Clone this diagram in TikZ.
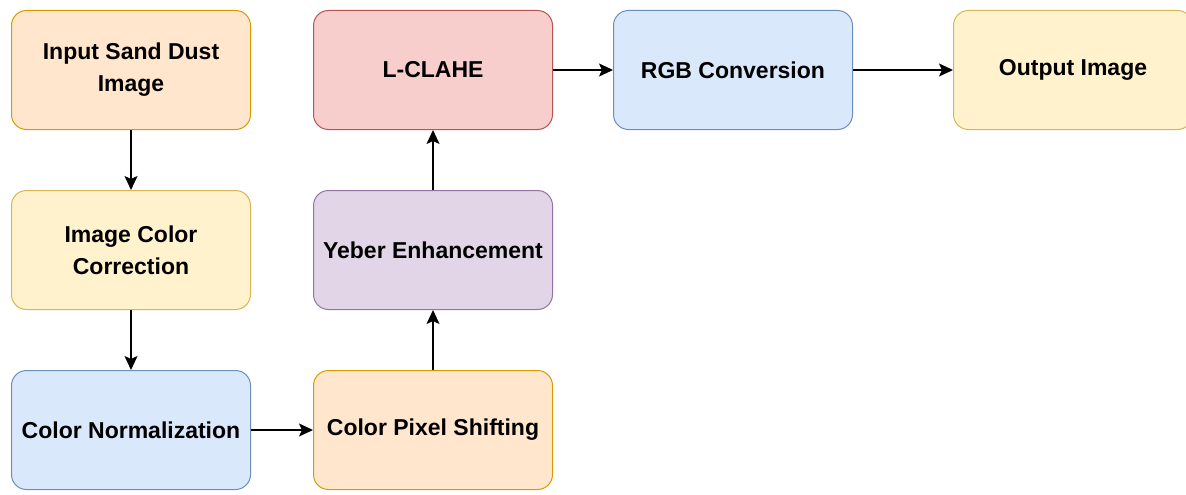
\documentclass[tikz,border=0pt]{standalone}
\usepackage{fontspec}
\setmainfont{Liberation Sans}
\usepackage{xcolor}
\usepackage{tikz}
\usetikzlibrary{arrows.meta}
\definecolor{fillnaranja}{HTML}{FFE6CC}
\definecolor{bordenaranja}{HTML}{D79B00}
\definecolor{fillamarillo}{HTML}{FFF2CC}
\definecolor{bordeamarillo}{HTML}{D6B656}
\definecolor{fillazul}{HTML}{DAE8FC}
\definecolor{bordeazul}{HTML}{6C8EBF}
\definecolor{fillrojo}{HTML}{F8CECC}
\definecolor{borderojo}{HTML}{B85450}
\definecolor{fillmorado}{HTML}{E1D5E7}
\definecolor{bordemorado}{HTML}{9673A6}

\begin{document}
\begin{tikzpicture}[x=1pt, y=-1pt, >={Stealth[length=14pt,width=13pt,inset=3pt]},
    caja/.style={rounded corners=15pt, line width=1pt, minimum width=239pt,
        minimum height=119pt, inner sep=0pt, align=center,
        font=\bfseries\fontsize{23}{32}\selectfont},
    flecha/.style={->, line width=1.6pt}]
    \useasboundingbox[fill=white] (0,0) rectangle (1186,495);
    % columna izquierda
    \node[caja,fill=fillnaranja,draw=bordenaranja] (entrada) at (131,70) {Input Sand Dust\\Image};
    \node[caja,fill=fillamarillo,draw=bordeamarillo] (correccion) at (131,250) {Image Color\\Correction};
    \node[caja,fill=fillazul,draw=bordeazul] (normal) at (131,430) {Color Normalization};
    % columna central
    \node[caja,fill=fillnaranja,draw=bordenaranja] (pixel) at (433,430) {Color Pixel Shifting};
    \node[caja,fill=fillmorado,draw=bordemorado] (yeber) at (433,250) {Yeber Enhancement};
    \node[caja,fill=fillrojo,draw=borderojo] (clahe) at (433,70) {L-CLAHE};
    % fila superior
    \node[caja,fill=fillazul,draw=bordeazul] (rgb) at (733,70) {RGB Conversion};
    \node[caja,fill=fillamarillo,draw=bordeamarillo] (salida) at (1073,70) {Output Image};
    \draw[flecha] (entrada) -- (correccion);
    \draw[flecha] (correccion) -- (normal);
    \draw[flecha] (normal) -- (pixel);
    \draw[flecha] (pixel) -- (yeber);
    \draw[flecha] (yeber) -- (clahe);
    \draw[flecha] (clahe) -- (rgb);
    \draw[flecha] (rgb) -- (salida);
\end{tikzpicture}
\end{document}
